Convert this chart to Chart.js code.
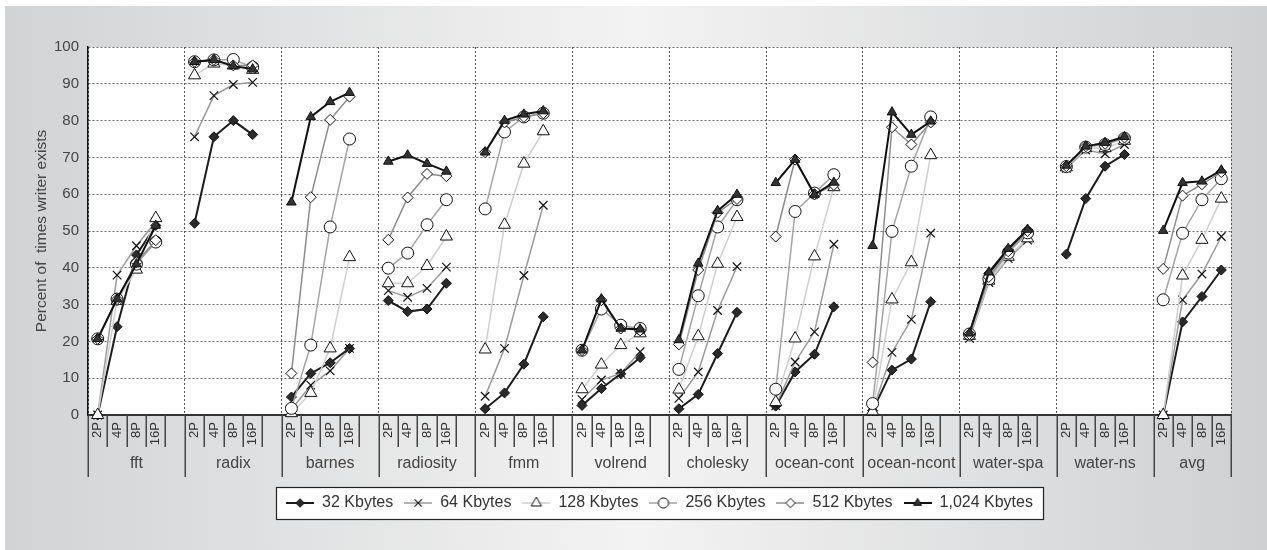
<!DOCTYPE html>
<html>
<head>
<meta charset="utf-8">
<script src="https://cdn.jsdelivr.net/npm/chart.js@4.4.1/dist/chart.umd.min.js"></script>
<style>
html, body { margin: 0; padding: 0; background: #fff; }
#wrap { width: 1267px; height: 550px; }
</style>
</head>
<body>
<div id="wrap"><canvas id="c" width="1267" height="550"></canvas></div>
<script>
var FONT = '"Liberation Sans", Arial, Helvetica, sans-serif';

var groups = ['fft', 'radix', 'barnes', 'radiosity', 'fmm', 'volrend', 'cholesky',
  'ocean-cont', 'ocean-ncont', 'water-spa', 'water-ns', 'avg'];
var procs = ['2P', '4P', '8P', '16P'];
var yTicks = [0, 10, 20, 30, 40, 50, 60, 70, 80, 90, 100];

// 4 values per group (2P,4P,8P,16P), groups in the order above
var kb32 = [0, 24, 43.5, 51.5,  52.1, 75.6, 80, 76.2,  4.9, 11.3, 14.2, 18.1,  31.1, 28.1, 28.8, 35.8,
  1.7, 6, 13.8, 26.7,  2.6, 7.2, 11.2, 15.6,  1.7, 5.6, 16.7, 27.9,  2.4, 11.7, 16.5, 29.4,
  1.2, 12.2, 15.2, 30.8,  22.2, 38.5, 45, 50.2,  43.7, 58.8, 67.6, 70.8,  0, 25.3, 32.2, 39.4];
var kb64 = [0, 38, 46, 52.5,  75.6, 86.8, 89.8, 90.4,  1.5, 8.1, 12, 18.1,  33.8, 32, 34.4, 40.2,
  5.1, 18.1, 37.9, 57,  4.2, 9.5, 11.3, 17.2,  4.5, 11.7, 28.4, 40.3,  2.5, 14.4, 22.6, 46.4,
  1, 17, 26, 49.4,  20.8, 36, 42.5, 47.5,  67, 72, 71, 73.5,  0, 31.3, 38.3, 48.5];
var kb128 = [0, 31, 39.5, 53.5,  92.3, 95.5, 95, 93.8,  0.5, 6, 18.1, 42.9,  35.8, 35.8, 40.5, 48.5,
  17.8, 51.7, 68.3, 77.1,  7, 13.7, 19, 22.2,  6.9, 21.4, 41.1, 53.8,  3.5, 20.8, 43.1, 61.9,
  1, 31.4, 41.5, 70.6,  21.5, 36.5, 43, 48,  67.3, 72.5, 72.5, 74.5,  0, 37.9, 47.6, 58.8];
var kb256 = [20.7, 31.5, 41, 47,  96, 96.5, 96.6, 94.5,  1.8, 19, 51.1, 75,  39.9, 44, 51.7, 58.5,
  56, 76.9, 81, 82,  17.6, 28.8, 24.4, 23.5,  12.4, 32.4, 51.1, 58.5,  7, 55.3, 60.3, 65.3,
  3.1, 49.9, 67.6, 81,  22, 37, 44, 49.5,  67.5, 72.8, 73.5, 75.2,  31.3, 49.4, 58.5, 64.2];
var kb512 = [20.7, 31.5, 41.5, 47.5,  96, 96.5, 95, 95,  11.3, 59.2, 80.2, 86.5,  47.6, 59.1, 65.5, 64.9,
  71.4, 79.5, 81, 82,  17.6, 31.2, 23.5, 23,  19.2, 39.4, 55, 58.7,  48.5, 69.4, 60, 62.5,
  14.3, 78.2, 73.5, 79.5,  22, 37.5, 44.5, 50,  67.6, 73, 73.7, 75.4,  39.7, 59.6, 62.7, 66];
var kb1024 = [20.7, 31.5, 41, 51.5,  96, 96.5, 94.8, 94,  57.8, 81, 85.1, 87.6,  68.9, 70.6, 68.3, 66.2,
  71.4, 80, 81.7, 82.6,  17.6, 31.5, 23.5, 23.3,  20.4, 41.2, 55.5, 59.9,  63.1, 69.4, 59.9, 63.2,
  46, 82.3, 76.2, 79.8,  22.2, 38.8, 45.2, 50.4,  67.8, 73, 74, 75.6,  50.1, 63.1, 63.5, 66.5];

// slot labels: 4 per group plus an empty gap slot between groups
var slotLabels = [];
var groupStart = [];
groups.forEach(function(g, gi) {
  groupStart.push(slotLabels.length);
  procs.forEach(function(p) { slotLabels.push(p); });
  if (gi < groups.length - 1) slotLabels.push('');
});
var groupCenters = groupStart.map(function(s, gi) {
  var end = gi < groups.length - 1 ? groupStart[gi + 1] : slotLabels.length;
  return (s - 0.5 + end - 0.5) / 2;
});

function spread(vals) {
  var out = [];
  for (var g = 0; g < groups.length; g++) {
    for (var k = 0; k < procs.length; k++) out.push(vals[g * procs.length + k]);
    if (g < groups.length - 1) out.push(null);
  }
  return out;
}

var series = [
  { label: '32 Kbytes', data: kb32, line: '#1c1c1c', lw: 2, style: 'rectRot', r: 5, fill: '#2a2a2a', pbw: 1 },
  { label: '64 Kbytes', data: kb64, line: '#9a9a9a', lw: 1.5, style: 'crossRot', r: 6, fill: '#111', pbw: 1.2 },
  { label: '128 Kbytes', data: kb128, line: '#cfcfcf', lw: 1.5, style: 'triangle', r: 7, fill: '#fff', pbw: 1 },
  { label: '256 Kbytes', data: kb256, line: '#a5a5a5', lw: 1.5, style: 'circle', r: 6, fill: '#fff', pbw: 1 },
  { label: '512 Kbytes', data: kb512, line: '#8d8d8d', lw: 1.5, style: 'rectRot', r: 5.5, fill: '#fff', pbw: 1 },
  { label: '1,024 Kbytes', data: kb1024, line: '#111', lw: 2, style: 'triangle', r: 5.5, fill: '#333', pbw: 1 }
];

// legend icons: short line with the marker in the middle
function makeIcon(s) {
  var cv = document.createElement('canvas');
  cv.width = 28; cv.height = 18;
  var c = cv.getContext('2d');
  c.strokeStyle = s.line; c.lineWidth = s.lw;
  c.beginPath(); c.moveTo(0, 9); c.lineTo(28, 9); c.stroke();
  c.fillStyle = s.fill; c.strokeStyle = '#111'; c.lineWidth = s.pbw;
  Chart.helpers.drawPoint(c, { pointStyle: s.style, radius: s.r * 0.85, rotation: 0, borderWidth: s.pbw }, 14, 9);
  return cv;
}
var icons = series.map(makeIcon);

var datasets = series.map(function(s, i) {
  return {
    label: s.label,
    data: spread(s.data),
    borderColor: s.line,
    borderWidth: s.lw,
    pointStyle: s.style,
    pointRadius: s.r,
    pointHoverRadius: s.r,
    pointBackgroundColor: s.fill,
    pointBorderColor: '#111',
    pointBorderWidth: s.pbw,
    spanGaps: false,
    tension: 0,
    clip: false,
    order: series.length - 1 - i
  };
});

var backdrop = {
  id: 'backdrop',
  beforeDraw: function(chart) {
    var ctx = chart.ctx, W = chart.width, H = chart.height, a = chart.chartArea;
    ctx.save();
    ctx.fillStyle = '#fff';
    ctx.fillRect(0, 0, W, H);
    var grad = ctx.createLinearGradient(5, 0, W, 0);
    grad.addColorStop(0, '#d2d3d5');
    grad.addColorStop(0.5, '#f3f3f3');
    grad.addColorStop(1, '#cfd0d2');
    ctx.fillStyle = grad;
    ctx.fillRect(5, 6, W - 5, H - 6);
    ctx.fillStyle = '#fff';
    ctx.fillRect(a.left, a.top, a.right - a.left, a.bottom - a.top);
    var hb = chart.legend.legendHitBoxes;
    if (hb && hb.length) {
      var l = hb[0].left - 10, last = hb[hb.length - 1];
      var r = last.left + last.width + 10, t = hb[0].top - 8;
      ctx.fillRect(l, t, r - l, 32);
      ctx.strokeStyle = '#222'; ctx.lineWidth = 1.2;
      ctx.strokeRect(Math.round(l) + 0.5, Math.round(t) + 0.5, Math.round(r - l), 32);
    }
    ctx.restore();
  },
  afterDraw: function(chart) {
    // separators between the slot labels and between the groups
    var x = chart.scales.x, ctx = chart.ctx, n = slotLabels.length;
    var w = (x.right - x.left) / n, y0 = chart.chartArea.bottom;
    ctx.save();
    ctx.strokeStyle = '#444'; ctx.lineWidth = 1.5;
    for (var i = 0; i <= n; i++) {
      var px = Math.round(x.left + i * w) + 0.25;
      var isGroup = i === n || groupStart.indexOf(i) >= 0;
      ctx.beginPath();
      ctx.moveTo(px, y0);
      ctx.lineTo(px, y0 + (isGroup ? 62 : 32));
      ctx.stroke();
    }
    ctx.restore();
  }
};

new Chart(document.getElementById('c'), {
  type: 'line',
  data: { labels: slotLabels, datasets: datasets },
  plugins: [backdrop],
  options: {
    responsive: false,
    animation: false,
    layout: { padding: { left: 0, right: 36, top: 47, bottom: 29 } },
    plugins: {
      tooltip: { enabled: false },
      legend: {
        position: 'bottom',
        fullSize: false,
        labels: {
          usePointStyle: true,
          pointStyleWidth: 28,
          padding: 11,
          color: '#333',
          font: { size: 16, family: FONT },
          generateLabels: function(chart) {
            var items = Chart.defaults.plugins.legend.labels.generateLabels(chart);
            items.forEach(function(it) { it.pointStyle = icons[it.datasetIndex]; });
            return items;
          },
          sort: function(a, b) { return a.datasetIndex - b.datasetIndex; }
        }
      }
    },
    scales: {
      x: {
        type: 'category',
        offset: true,
        grid: {
          offset: true,
          drawTicks: false,
          lineWidth: 1,
          color: function(c) {
            return (c.index === undefined || groupStart.indexOf(c.index) >= 0) ? '#555' : 'rgba(0,0,0,0)';
          }
        },
        border: { color: '#333', width: 2, dash: [2, 2] },
        ticks: { autoSkip: false, minRotation: 90, maxRotation: 90, padding: 7, color: '#333', font: { size: 13, family: FONT } },
        afterFit: function(s) { s.height = 32; }
      },
      x2: {
        type: 'linear',
        position: 'bottom',
        weight: 1,
        bounds: 'data',
        min: -0.5,
        max: slotLabels.length - 0.5,
        afterBuildTicks: function(s) { s.ticks = groupCenters.map(function(v) { return { value: v }; }); },
        ticks: {
          autoSkip: false, maxRotation: 0, padding: -1, color: '#444', font: { size: 16, family: FONT },
          callback: function(v, i) { return groups[i]; }
        },
        grid: { display: false },
        border: { display: false },
        afterFit: function(s) { s.height = 37; }
      },
      y: {
        min: 0,
        max: 100,
        afterBuildTicks: function(s) { s.ticks = yTicks.map(function(v) { return { value: v }; }); },
        ticks: { color: '#444', font: { size: 15, family: FONT }, padding: 9 },
        grid: { color: '#666', drawTicks: false, lineWidth: 1 },
        border: { color: '#111', width: 1.5, dash: [2, 2] },
        title: {
          display: true,
          text: 'Percent of  times writer exists',
          color: '#444',
          font: { size: 15.5, family: FONT },
          padding: { top: 32, bottom: 0 }
        },
        afterFit: function(s) { s.width = 88; }
      }
    }
  }
});
</script>
</body>
</html>
